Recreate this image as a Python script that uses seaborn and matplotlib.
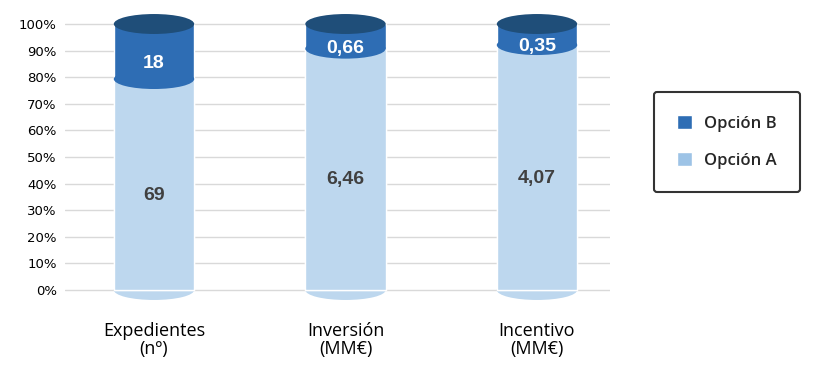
import matplotlib
matplotlib.use("Agg")
import matplotlib.pyplot as plt
from matplotlib.patches import Ellipse, Patch
import seaborn as sns
import pandas as pd

# ---- data ----
categories = ["Expedientes\n(nº)", "Inversión\n(MM€)", "Incentivo\n(MM€)"]
opcion_a = [69, 6.46, 4.07]
opcion_b = [18, 0.66, 0.35]
labels_a = ["69", "6,46", "4,07"]
labels_b = ["18", "0,66", "0,35"]
yticks = [0, 10, 20, 30, 40, 50, 60, 70, 80, 90, 100]

col_a = "#BDD7EE"
col_a_leg = "#9DC3E6"
col_b = "#2E6DB4"
col_b_top = "#1F4E79"

totals = [a + b for a, b in zip(opcion_a, opcion_b)]
pct_a = [a / t * 100 for a, t in zip(opcion_a, totals)]
pct_b = [b / t * 100 for b, t in zip(opcion_b, totals)]
df = pd.DataFrame({"cat": categories, "a": pct_a, "tot": [100.0] * 3})

sns.set_theme(style="white")
plt.rcParams["font.family"] = ["DejaVu Sans"]

fig = plt.figure(figsize=(8.18, 3.66), dpi=100)
ax = fig.add_axes([65 / 818, 66 / 366, (610 - 65) / 818, (300 - 5) / 366])

width = 0.42
sns.barplot(data=df, x="cat", y="tot", color=col_b, width=width, ax=ax,
            saturation=1, zorder=3)
sns.barplot(data=df, x="cat", y="a", color=col_a, width=width, ax=ax,
            saturation=1, zorder=3)

eh = 7.5
for i in range(len(categories)):
    # bottom cap
    ax.add_patch(Ellipse((i, 0), width, eh, facecolor=col_a, edgecolor="none", zorder=2.9))
    # boundary (B region's bottom curve)
    ax.add_patch(Ellipse((i, pct_a[i]), width, eh, facecolor=col_b, edgecolor="none", zorder=3.5))
    # top cap
    ax.add_patch(Ellipse((i, 100), width, eh, facecolor=col_b_top, edgecolor="none", zorder=3.6))
    ax.text(i, pct_a[i] / 2 - 4, labels_a[i], ha="center", va="center",
            fontsize=14, fontweight="bold", color="#404040",
            family="Liberation Sans", zorder=5)
    ax.text(i, pct_a[i] + pct_b[i] / 2 - 4.5, labels_b[i], ha="center", va="center",
            fontsize=14, fontweight="bold", color="white",
            family="Liberation Sans", zorder=5)

ax.set_ylim((300 - 290) / -2.66, 100 + (24 - 5) / 2.66)
ax.set_xlim(-(154 - 65) / 191.5, 2 + (610 - 537) / 191.5)
ax.set_yticks(yticks)
ax.set_yticklabels([f"{t}%" for t in yticks], fontsize=9.5, color="black")
ax.yaxis.grid(True, color="#D9D9D9", linewidth=1, zorder=0)
ax.set_axisbelow(True)
ax.tick_params(axis="y", length=0, pad=6)
ax.tick_params(axis="x", length=0, pad=16)
ax.set_xticks(range(len(categories)))
ax.set_xticklabels(categories, fontsize=13, family="Open Sans", linespacing=1.0,
                   color="black")
ax.set_xlabel("")
ax.set_ylabel("")
for s in ax.spines.values():
    s.set_visible(False)

handles = [Patch(facecolor=col_b, label="Opción B"), Patch(facecolor=col_a_leg, label="Opción A")]
leg = fig.legend(handles=handles, loc="center", bbox_to_anchor=(727 / 818, 1 - 142 / 366),
                 prop={"family": "Open Sans", "size": 12, "weight": "semibold"},
                 frameon=True, fancybox=True, edgecolor="black", handlelength=0.9,
                 handleheight=0.9, labelspacing=1.2, borderpad=1.4, handletextpad=0.7,
                 borderaxespad=0)
leg.get_frame().set_linewidth(1.5)

fig.savefig("out.png", dpi=100)
